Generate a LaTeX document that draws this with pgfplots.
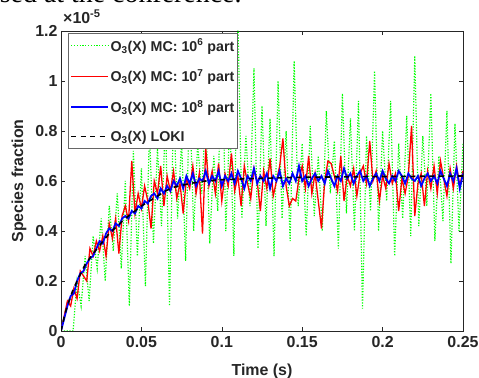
\documentclass[border=0pt]{standalone}
\usepackage{fontspec}
\setmainfont{Liberation Sans}
\newfontfamily\headfont{Liberation Serif}
\usepackage{pgfplots}
\pgfplotsset{compat=1.18}
\definecolor{mgreen}{rgb}{0,1,0}
\definecolor{axgray}{rgb}{0.15,0.15,0.15}
\begin{document}
\begin{tikzpicture}
\node[anchor=base east, font=\headfont\mdseries\fontsize{28}{30}\selectfont] at (245bp,375bp) {used at the conference.};
\begin{axis}[
  at={(61bp,47bp)}, anchor=south west,
  width=402bp, height=300bp, scale only axis,
  xmin=0, xmax=0.25, ymin=0, ymax=1.2,
  xtick={0,0.05,0.1,0.15,0.2,0.25},
  xticklabels={0,0.05,0.1,0.15,0.2,0.25},
  ytick={0,0.2,0.4,0.6,0.8,1,1.2},
  yticklabels={0,0.2,0.4,0.6,0.8,1,1.2},
  tick pos=both, tick align=inside,
  major tick length=4bp,
  tick style={axgray, line width=0.6bp},
  axis line style={axgray, line width=0.7bp},
  ticklabel style={font=\fontsize{16}{18}\selectfont\bfseries, text=axgray},
  xticklabel style={yshift=-2bp},
  xlabel={Time (s)},
  ylabel={Species fraction},
  label style={font=\fontsize{16}{18}\selectfont\bfseries, text=axgray},
  xlabel style={at={(axis description cs:0.5,0)}, anchor=center, yshift=-40bp},
  ylabel style={at={(axis description cs:0,0.5)}, anchor=center, yshift=42bp},
  legend cell align=left,
  legend image code/.code={\draw[#1] (0bp,0bp) -- (37bp,0bp);},
  legend style={at={(rel axis cs:0.0174,0.993)}, anchor=north west,
    draw=black!60, line width=0.6bp, fill=white,
    font=\fontsize{14.3}{16}\selectfont\bfseries, text=axgray,
    inner xsep=2bp, inner ysep=4bp, row sep=14bp,
    nodes={inner sep=1.5bp}},
  clip=true,
]
\addplot[draw=mgreen, line width=1.2bp, dash pattern=on 1.2bp off 1.6bp] coordinates {
(0,0)(0.0025,0)(0.005,0)(0.0075,0)(0.01,0.2)(0.0125,0.1)(0.015,0.3)(0.0175,0.12)
(0.02,0.38)(0.0225,0.25)(0.025,0.45)(0.0275,0.2)(0.03,0.5)(0.0325,0.32)(0.035,0.55)
(0.0375,0.25)(0.04,0.6)(0.0425,0.1)(0.045,0.72)(0.0475,0.3)(0.05,0.65)(0.0525,0.18)
(0.055,0.8)(0.0575,0.35)(0.06,0.73)(0.0625,0.42)(0.065,0.85)(0.0675,0.1)(0.07,0.9)
(0.0725,0.45)(0.075,0.76)(0.0775,0.28)(0.08,0.95)(0.0825,0.4)(0.085,0.75)(0.0875,0.55)
(0.09,0.88)(0.0925,0.35)(0.095,0.7)(0.0975,0.48)(0.1,1.18)(0.1025,0.4)(0.105,0.85)
(0.1075,0.3)(0.11,1.25)(0.1125,0.45)(0.115,0.78)(0.1175,0.5)(0.12,1.05)(0.1225,0.33)
(0.125,0.9)(0.1275,0.42)(0.13,0.85)(0.1325,0.3)(0.135,1.0)(0.1375,0.45)(0.14,0.8)
(0.1425,0.36)(0.145,1.08)(0.1475,0.5)(0.15,0.75)(0.1525,0.38)(0.155,0.82)(0.1575,0.46)
(0.16,0.7)(0.1625,0.4)(0.165,0.88)(0.1675,0.55)(0.17,0.76)(0.1725,0.33)(0.175,0.95)
(0.1775,0.47)(0.18,0.85)(0.1825,0.4)(0.185,0.92)(0.1875,0.09)(0.19,0.78)(0.1925,0.48)
(0.195,1.04)(0.1975,0.4)(0.2,0.8)(0.2025,0.52)(0.205,0.92)(0.2075,0.3)(0.21,0.75)
(0.2125,0.45)(0.215,0.86)(0.2175,0.38)(0.22,1.1)(0.2225,0.42)(0.225,0.78)(0.2275,0.5)
(0.23,0.95)(0.2325,0.36)(0.235,0.7)(0.2375,0.44)(0.24,0.88)(0.2425,0.27)(0.245,0.83)
(0.2475,0.4)(0.25,0.75)
};
\addlegendentry{O\textsubscript{3}(X) MC: 10\textsuperscript{6} part}
\addplot[draw=red, line width=1.3bp] coordinates {
(0,0)(0.002,0.06)(0.004,0.12)(0.006,0.1)(0.008,0.17)(0.01,0.13)(0.012,0.24)(0.014,0.22)
(0.016,0.2)(0.018,0.33)(0.02,0.3)(0.022,0.36)(0.024,0.32)(0.026,0.38)(0.028,0.3)
(0.03,0.43)(0.032,0.37)(0.034,0.45)(0.036,0.31)(0.038,0.46)(0.04,0.5)(0.042,0.44)
(0.044,0.68)(0.046,0.47)(0.048,0.55)(0.05,0.49)(0.052,0.58)(0.054,0.52)(0.056,0.41)
(0.058,0.6)(0.06,0.55)(0.062,0.66)(0.064,0.5)(0.066,0.62)(0.068,0.56)(0.07,0.64)
(0.072,0.53)(0.074,0.59)(0.076,0.47)(0.078,0.61)(0.08,0.57)(0.082,0.66)(0.084,0.55)
(0.086,0.63)(0.088,0.39)(0.09,0.73)(0.092,0.58)(0.094,0.64)(0.096,0.55)(0.098,0.67)
(0.1,0.52)(0.102,0.63)(0.104,0.58)(0.106,0.71)(0.108,0.56)(0.11,0.62)(0.112,0.5)
(0.114,0.66)(0.116,0.59)(0.118,0.53)(0.12,0.65)(0.122,0.6)(0.124,0.48)(0.126,0.64)
(0.128,0.57)(0.13,0.69)(0.132,0.54)(0.134,0.6)(0.136,0.66)(0.138,0.77)(0.14,0.58)
(0.142,0.5)(0.144,0.53)(0.146,0.52)(0.148,0.61)(0.15,0.66)(0.152,0.57)(0.154,0.7)
(0.156,0.55)(0.158,0.63)(0.16,0.52)(0.162,0.41)(0.164,0.6)(0.166,0.68)(0.168,0.67)
(0.17,0.62)(0.172,0.56)(0.174,0.7)(0.176,0.52)(0.178,0.62)(0.18,0.58)(0.182,0.65)
(0.184,0.54)(0.186,0.63)(0.188,0.66)(0.19,0.59)(0.192,0.76)(0.194,0.6)(0.196,0.64)
(0.198,0.52)(0.2,0.62)(0.202,0.57)(0.204,0.67)(0.206,0.59)(0.208,0.63)(0.21,0.48)
(0.212,0.61)(0.214,0.55)(0.216,0.62)(0.218,0.82)(0.22,0.46)(0.222,0.59)(0.224,0.63)
(0.226,0.5)(0.228,0.64)(0.23,0.57)(0.232,0.66)(0.234,0.55)(0.236,0.68)(0.238,0.61)
(0.24,0.54)(0.242,0.65)(0.244,0.57)(0.246,0.66)(0.248,0.58)(0.25,0.64)
};
\addlegendentry{O\textsubscript{3}(X) MC: 10\textsuperscript{7} part}
\addplot[draw=blue, line width=1.8bp] coordinates {
(0,0)(0.002,0.05)(0.004,0.1)(0.006,0.14)(0.008,0.15)(0.01,0.2)(0.012,0.23)(0.014,0.24)
(0.016,0.27)(0.018,0.29)(0.02,0.3)(0.022,0.33)(0.024,0.36)(0.026,0.35)(0.028,0.39)
(0.03,0.41)(0.032,0.4)(0.034,0.43)(0.036,0.42)(0.038,0.45)(0.04,0.46)(0.042,0.45)
(0.044,0.48)(0.046,0.47)(0.048,0.5)(0.05,0.49)(0.052,0.52)(0.054,0.51)(0.056,0.54)
(0.058,0.55)(0.06,0.53)(0.062,0.57)(0.064,0.55)(0.066,0.58)(0.068,0.56)(0.07,0.6)
(0.072,0.58)(0.074,0.61)(0.076,0.57)(0.078,0.62)(0.08,0.59)(0.082,0.63)(0.084,0.58)
(0.086,0.61)(0.088,0.6)(0.09,0.64)(0.092,0.59)(0.094,0.62)(0.096,0.6)(0.098,0.64)
(0.1,0.58)(0.102,0.62)(0.104,0.6)(0.106,0.63)(0.108,0.59)(0.11,0.64)(0.112,0.61)
(0.114,0.57)(0.116,0.62)(0.118,0.6)(0.12,0.65)(0.122,0.59)(0.124,0.62)(0.126,0.6)
(0.128,0.63)(0.13,0.57)(0.132,0.62)(0.134,0.6)(0.136,0.64)(0.138,0.58)(0.14,0.61)
(0.142,0.59)(0.144,0.63)(0.146,0.6)(0.148,0.66)(0.15,0.6)(0.152,0.62)(0.154,0.58)
(0.156,0.61)(0.158,0.63)(0.16,0.6)(0.162,0.62)(0.164,0.59)(0.166,0.64)(0.168,0.61)
(0.17,0.58)(0.172,0.62)(0.174,0.6)(0.176,0.65)(0.178,0.61)(0.18,0.63)(0.182,0.59)
(0.184,0.62)(0.186,0.64)(0.188,0.6)(0.19,0.62)(0.192,0.58)(0.194,0.61)(0.196,0.63)
(0.198,0.6)(0.2,0.64)(0.202,0.61)(0.204,0.59)(0.206,0.62)(0.208,0.6)(0.21,0.64)
(0.212,0.62)(0.214,0.59)(0.216,0.63)(0.218,0.61)(0.22,0.6)(0.222,0.62)(0.224,0.58)
(0.226,0.61)(0.228,0.63)(0.23,0.6)(0.232,0.62)(0.234,0.59)(0.236,0.64)(0.238,0.61)
(0.24,0.58)(0.242,0.63)(0.244,0.6)(0.246,0.65)(0.248,0.57)(0.25,0.63)
};
\addlegendentry{O\textsubscript{3}(X) MC: 10\textsuperscript{8} part}
\addplot[draw=black, line width=1.6bp, dash pattern=on 5bp off 4.5bp] coordinates {
(0,0)(0.0025,0.07)(0.005,0.12)(0.0075,0.165)(0.01,0.2)(0.015,0.265)(0.02,0.31)
(0.025,0.35)(0.03,0.39)(0.035,0.42)(0.04,0.45)(0.045,0.475)(0.05,0.5)(0.055,0.52)
(0.06,0.54)(0.065,0.56)(0.07,0.575)(0.08,0.59)(0.09,0.6)(0.1,0.605)(0.12,0.61)
(0.15,0.615)(0.2,0.618)(0.25,0.62)
};
\addlegendentry{O\textsubscript{3}(X) LOKI}
\end{axis}
\node[anchor=base west, font=\fontsize{16}{18}\selectfont\bfseries, text=axgray, inner sep=0pt] at (63bp,354bp) {×10\textsuperscript{-5}};
\pgfresetboundingbox
\useasboundingbox (0,0) rectangle (479bp,378bp);
\end{tikzpicture}
\end{document}
